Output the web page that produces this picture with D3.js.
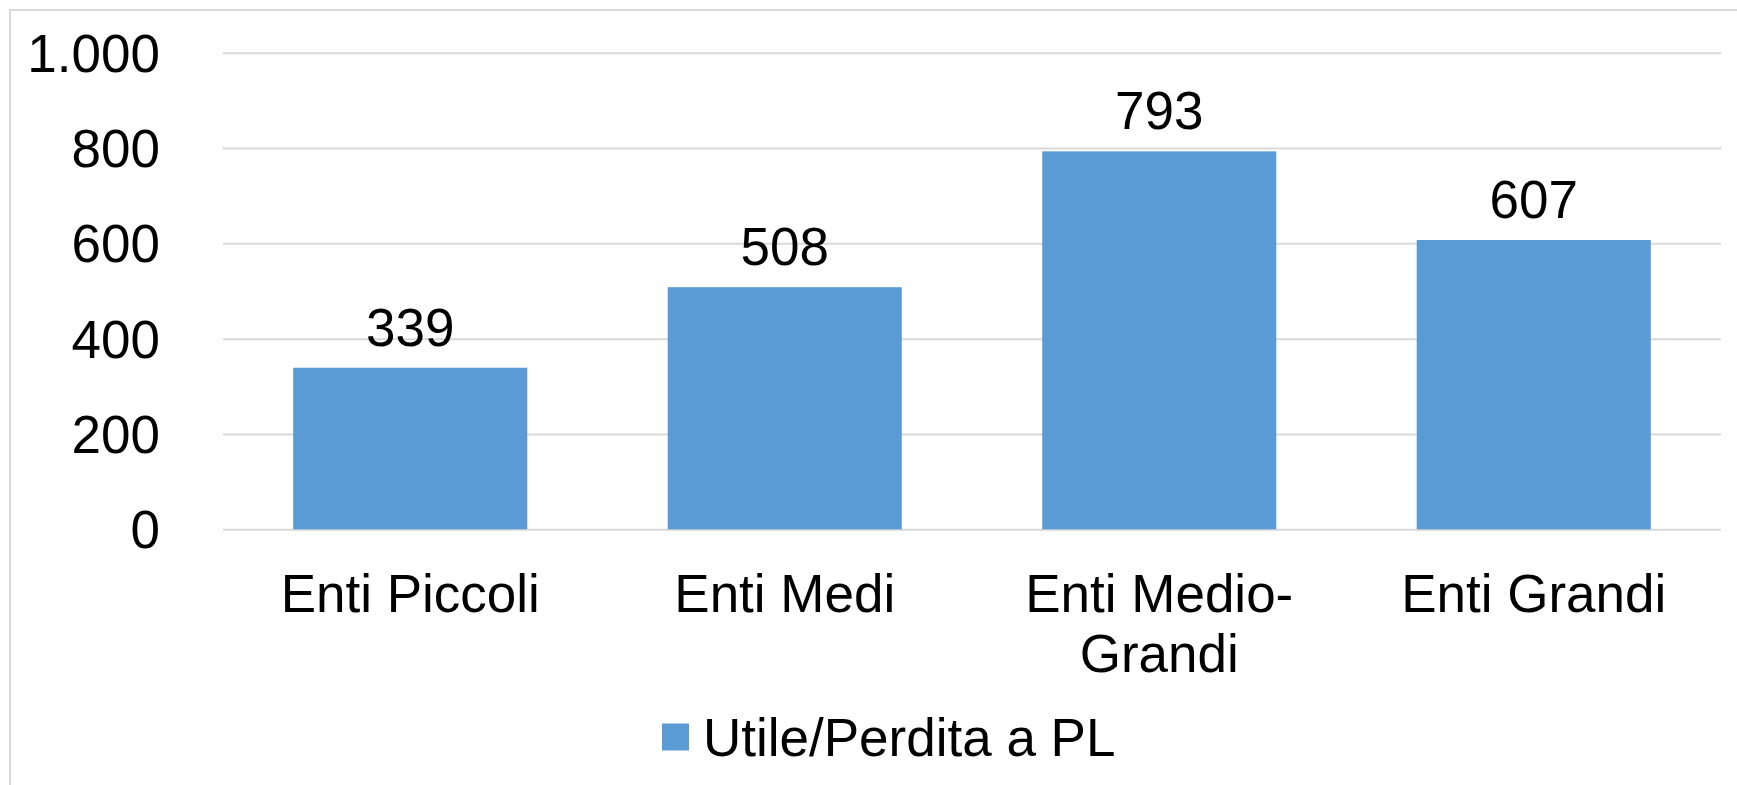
<!DOCTYPE html>
<html>
<head>
<meta charset="utf-8">
<script src="https://cdn.jsdelivr.net/npm/d3@7"></script>
<style>
  body { margin: 0; background: #fff; }
  text { font-family: "Liberation Sans", Arial, sans-serif; fill: #000; }
</style>
</head>
<body>
<div id="chart"></div>
<script>
const categories = ["Enti Piccoli", "Enti Medi", "Enti Medio-Grandi", "Enti Grandi"];
const values = [339, 508, 793, 607];
const yTicks = [0, 200, 400, 600, 800, 1000];
const seriesName = "Utile/Perdita a PL";

const width = 1737, height = 785;
const margin = {top: 52.7, right: 16, bottom: 255.7, left: 223};
const barColor = "#5b9bd5";
const fontSize = 53;

const it = d3.formatLocale({decimal: ",", thousands: ".", grouping: [3], currency: ["€", ""]});
const fmt = it.format(",d");

let svg = d3.select("#chart")
    .append("svg")
    .attr("width", width)
    .attr("height", height);

// chart area border (runs off the right and bottom edges)
svg.append("rect")
    .attr("x", 10).attr("y", 10)
    .attr("width", width + 20).attr("height", height + 20)
    .attr("fill", "none")
    .attr("stroke", "#d9d9d9")
    .attr("stroke-width", 2);

let x = d3.scaleBand()
    .domain(categories)
    .range([margin.left, width - margin.right])
    .paddingInner(0.375)
    .paddingOuter(0.1875);

let y = d3.scaleLinear()
    .domain([0, 1000])
    .range([height - margin.bottom, margin.top]);

// gridlines + y labels
let yAxis = svg.append("g")
    .attr("transform", `translate(${margin.left},0)`)
    .call(d3.axisLeft(y)
        .tickValues(yTicks)
        .tickFormat(fmt)
        .tickSize(-(width - margin.right - margin.left))
        .tickPadding(63));

yAxis.select(".domain").remove();
yAxis.selectAll(".tick line")
    .attr("stroke", "#d9d9d9")
    .attr("stroke-width", 2);
yAxis.selectAll(".tick text")
    .attr("dy", "0.35em")
    .style("font-size", fontSize + "px")
    .attr("font-family", null);

// bars
svg.selectAll("rect.bar")
    .data(values)
    .enter()
    .append("rect")
    .attr("class", "bar")
    .attr("x", function(d, i) { return x(categories[i]); })
    .attr("y", function(d) { return y(d); })
    .attr("width", x.bandwidth())
    .attr("height", function(d) { return y(0) - y(d); })
    .attr("fill", barColor);

// value labels
svg.selectAll("text.val")
    .data(values)
    .enter()
    .append("text")
    .attr("class", "val")
    .attr("x", function(d, i) { return x(categories[i]) + x.bandwidth() / 2; })
    .attr("y", function(d) { return y(d) - 22; })
    .style("text-anchor", "middle")
    .style("font-size", fontSize + "px")
    .text(function(d) { return fmt(d); });

// category labels, wrapped like Excel does
let catLabels = svg.selectAll("text.cat")
    .data(categories)
    .enter()
    .append("text")
    .attr("class", "cat")
    .attr("x", function(d) { return x(d) + x.bandwidth() / 2; })
    .attr("y", y(0) + 82.5)
    .style("text-anchor", "middle")
    .style("font-size", fontSize + "px")
    .text(function(d) { return d; });

catLabels.each(function(d) {
    let t = d3.select(this);
    if (this.getComputedTextLength() > x.step() - 20) {
        let cut = d.indexOf("-");
        let parts = cut > 0 ? [d.slice(0, cut + 1), d.slice(cut + 1)] : [d];
        let cx = t.attr("x");
        t.text(null);
        parts.forEach(function(p, k) {
            t.append("tspan")
                .attr("x", cx)
                .attr("dy", k === 0 ? 0 : 60)
                .text(p);
        });
    }
});

// legend
let legend = svg.append("g")
    .attr("transform", "translate(662,737)");

legend.append("rect")
    .attr("x", 0).attr("y", -13.5)
    .attr("width", 27).attr("height", 27)
    .attr("fill", barColor);

legend.append("text")
    .attr("x", 41)
    .attr("y", 19)
    .style("font-size", fontSize + "px")
    .text(seriesName);
</script>
</body>
</html>
